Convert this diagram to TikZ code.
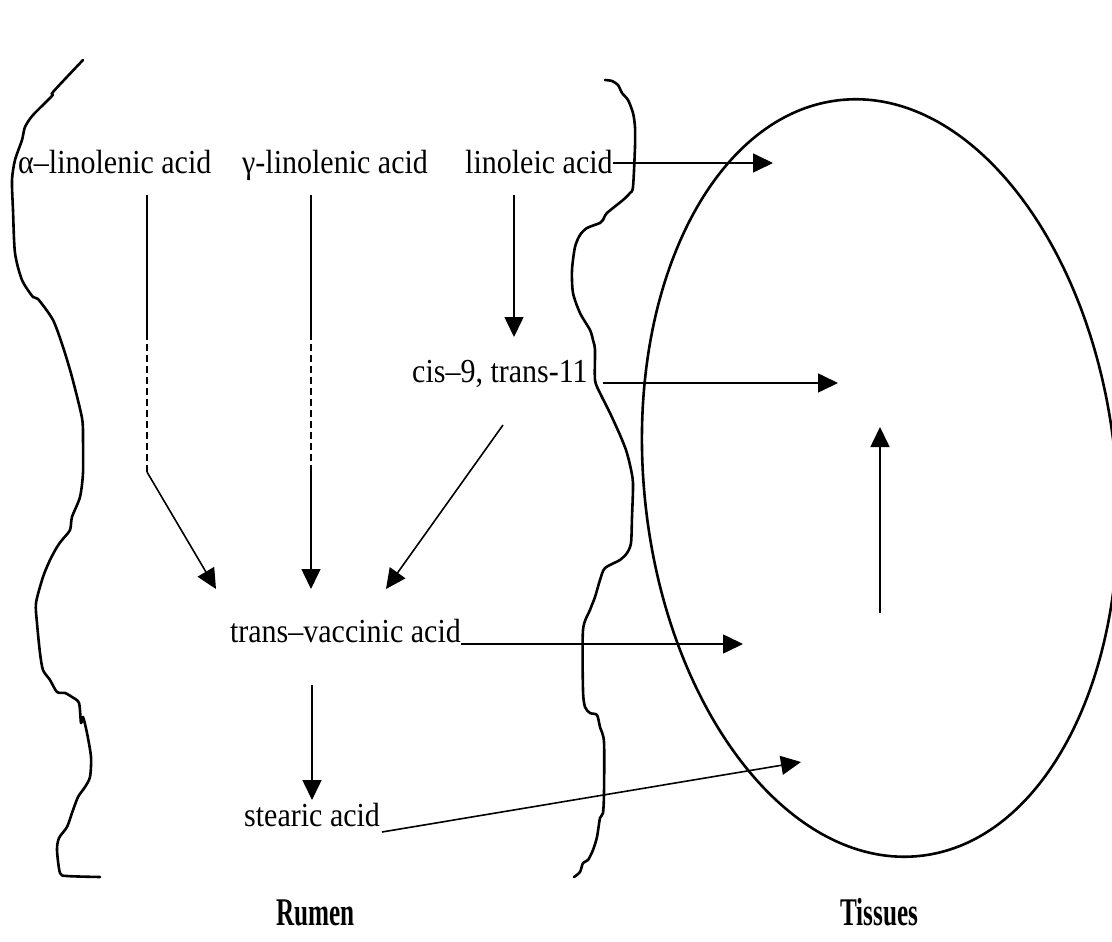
\documentclass[tikz,border=0pt]{standalone}
\usepackage{fontspec}
\usepackage{graphicx}
\setmainfont{Liberation Serif}
\usetikzlibrary{arrows.meta}
\newcommand{\tall}[1]{\scalebox{1}[1.12]{#1}}
\newcommand{\ttall}[1]{\scalebox{0.9}[1.4]{#1}}
\begin{document}
\begin{tikzpicture}[x=1pt,y=-1pt,
  lbl/.style={inner sep=0pt,anchor=base west,font=\fontsize{30}{36}\selectfont},
  ttl/.style={inner sep=0pt,anchor=base west,font=\fontsize{28}{33}\selectfont\bfseries},
  conn/.style={line width=1.6pt},
  arr/.style={conn,-{Triangle[length=20pt,width=19pt]}},
  wall/.style={line width=2.6pt,line join=round,line cap=round}]
\useasboundingbox (0,0) rectangle (1112,942);
% membranes
\draw[wall] plot[smooth,tension=0.45] coordinates {(83,60) (53,92) (52,96) (33,115) (25,127) (22,140) (15,160) (12,180) (13,210) (15,253) (22,280) (33,297) (38,299) (53,320) (63,347) (72,377) (82,418) (83,440) (83,473) (80,497) (72,517) (70,530) (62,540) (57,547) (50,560) (43,577) (36,603) (37,623) (40,653) (43,670) (50,680) (57,692) (65,693) (72,697) (79,703) (81,723) (83,717) (87,733) (91,757) (90,777) (85,787) (78,797) (72,813) (67,827) (59,838) (57,850) (60,873) (67,876) (100,877)};
\draw[wall] plot[smooth,tension=0.45] coordinates {(605,80) (612,81) (618,85) (622,93) (628,100) (633,113) (635,127) (635,147) (633,187) (630,193) (623,200) (607,213) (603,220) (600,223) (587,228) (580,235) (575,247) (572,270) (573,293) (580,313) (590,330) (593,340) (595,350) (595,380) (600,393) (610,413) (620,435) (626,450) (630,465) (633,483) (632,517) (631,543) (627,553) (620,560) (605,568) (600,580) (595,597) (590,610) (583,630) (583,690) (585,707) (590,713) (597,715) (600,727) (604,742) (604,793) (603,813) (600,818) (597,837) (593,850) (588,860) (583,863) (580,872) (574,877)};
% tissues
\coordinate (tc) at (880,478);
\draw[wall,rotate around={6:(tc)}] (tc) ellipse [x radius=236pt,y radius=380pt];
% texts
\node[lbl] (ala) at (18,173) {\tall{α–linolenic acid}};
\node[lbl] (gla) at (242,173) {\tall{γ-linolenic acid}};
\node[lbl] (la) at (465,173) {\tall{linoleic acid}};
\node[lbl] (cis) at (412,382) {\tall{cis–9, trans-11}};
\node[lbl,anchor=base east] (tva) at (461,642) {\tall{trans–vaccinic acid}};
\node[lbl] (sa) at (244,826) {\tall{stearic acid}};
\node[ttl] (rumen) at (276,925) {\ttall{Rumen}};
\node[ttl] (tis) at (840,925) {\ttall{Tissues}};
% free ends
\coordinate (a1) at (147,195); \coordinate (a2) at (147,333); \coordinate (a3) at (147,472); \coordinate (a4) at (216,589);
\coordinate (g1) at (311,195); \coordinate (g2) at (311,333); \coordinate (g3) at (311,465); \coordinate (g4) at (311,589);
\coordinate (l1) at (514,195); \coordinate (l2) at (514,337);
\coordinate (c1) at (503,425); \coordinate (c2) at (386,589);
\coordinate (t1) at (312,685); \coordinate (t2) at (312,800);
\coordinate (u1) at (880,613); \coordinate (u2) at (880,427);
\coordinate (e1) at (773,163); \coordinate (e2) at (838,383); \coordinate (e3) at (743,644); \coordinate (e4) at (801,762);
\coordinate (c0) at (603,383);
\coordinate (s0) at (382,832);
% rumen connectors
\draw[conn] (a1) -- (a2);
\draw[conn,dash pattern=on 7pt off 4pt] (a2) -- (a3);
\draw[arr] (a3) -- (a4);
\draw[conn] (g1) -- (g2);
\draw[conn,dash pattern=on 7pt off 4pt] (g2) -- (g3);
\draw[arr] (g3) -- (g4);
\draw[arr] (l1) -- (l2);
\draw[arr] (c1) -- (c2);
\draw[arr] (t1) -- (t2);
% to tissues
\draw[arr] (la.east |- e1) -- (e1);
\draw[arr] (c0) -- (e2);
\draw[arr] (tva.east |- e3) -- (e3);
\draw[arr] (s0) -- (e4);
\draw[arr] (u1) -- (u2);
\end{tikzpicture}
\end{document}
